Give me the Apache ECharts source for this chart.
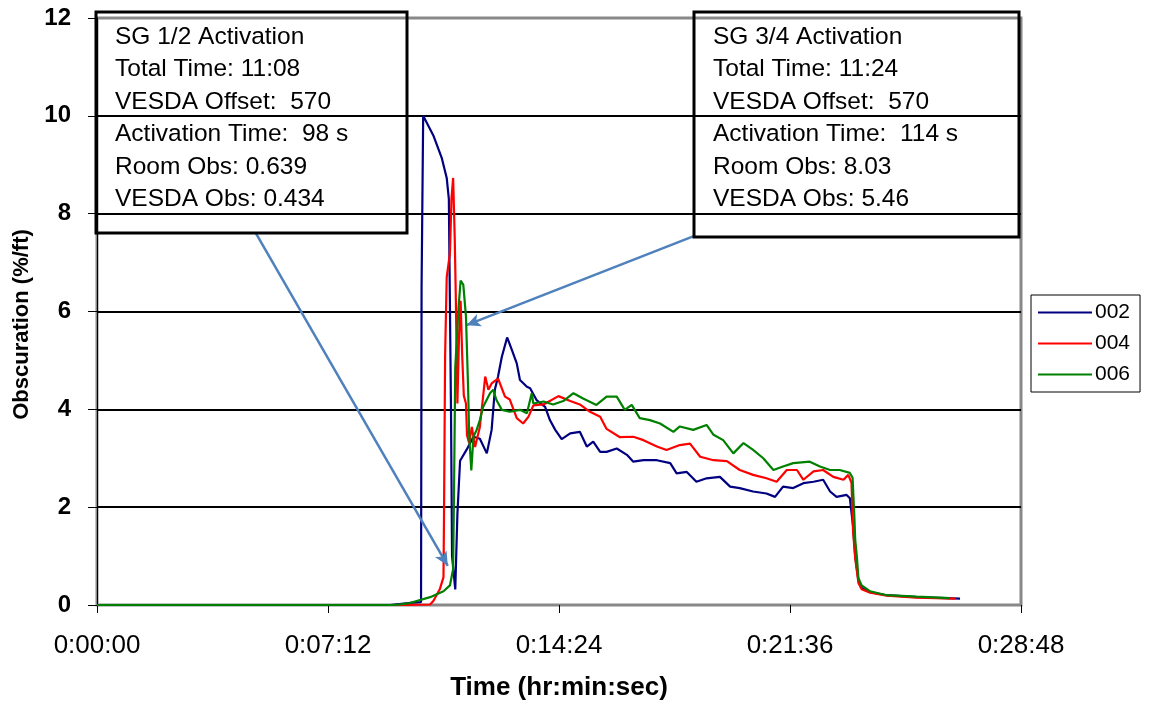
<!DOCTYPE html>
<html>
<head>
<meta charset="utf-8">
<script src="https://cdn.jsdelivr.net/npm/echarts@6/dist/echarts.min.js"></script>
<style>
    html, body { margin: 0; padding: 0; background: #fff; }
    #chart { width: 1149px; height: 702px; }
</style>
</head>
<body>
<div id="chart"></div>
<script>
    // time in seconds, obscuration in %/ft
    var times002 = [0, 548, 591, 606, 607, 610, 629, 645, 654, 658, 662, 664, 670, 674, 679, 691, 704, 716, 729, 738, 744, 750, 757, 767, 776, 785, 791, 804, 810, 822, 838, 847, 857, 869, 885, 903, 916, 928, 941, 953, 972, 991, 1003, 1022, 1047, 1072, 1084, 1103, 1121, 1140, 1165, 1184, 1202, 1227, 1252, 1268, 1283, 1302, 1321, 1340, 1358, 1371, 1383, 1402, 1408, 1411, 1414, 1418, 1424, 1430, 1446, 1477, 1533, 1614];
    var obs002 = [0, 0, 0.05, 0.06, 6.5, 10, 9.6, 9.13, 8.73, 8.3, 4.0, 1.0, 0.32, 1.86, 2.95, 3.17, 3.44, 3.4, 3.1, 3.58, 4.4, 4.67, 5.07, 5.47, 5.21, 4.94, 4.6, 4.46, 4.43, 4.19, 4.05, 3.78, 3.58, 3.39, 3.51, 3.54, 3.24, 3.34, 3.13, 3.13, 3.2, 3.07, 2.93, 2.96, 2.96, 2.9, 2.69, 2.72, 2.52, 2.59, 2.62, 2.42, 2.39, 2.32, 2.28, 2.21, 2.42, 2.39, 2.49, 2.52, 2.56, 2.32, 2.21, 2.25, 2.18, 2.2, 1.6, 1.0, 0.5, 0.35, 0.26, 0.2, 0.16, 0.13];

    var times004 = [0, 567, 623, 629, 641, 648, 649, 651, 654, 660, 663, 666, 669, 671, 674, 677, 680, 683, 686, 690, 692, 696, 701, 707, 716, 726, 732, 738, 750, 763, 772, 785, 797, 807, 816, 835, 863, 885, 903, 922, 941, 953, 978, 1003, 1022, 1047, 1065, 1090, 1109, 1128, 1153, 1178, 1202, 1227, 1252, 1271, 1290, 1309, 1321, 1340, 1358, 1377, 1396, 1405, 1411, 1414, 1418, 1424, 1430, 1446, 1477, 1533, 1605];
    var obs004 = [0, 0, 0.01, 0.08, 0.32, 0.57, 1.9, 5.09, 6.7, 7.19, 8.32, 8.73, 7.5, 6.3, 4.12, 5.5, 6.22, 5.09, 4.28, 4.12, 3.47, 3.31, 3.64, 3.23, 3.64, 4.67, 4.4, 4.53, 4.63, 4.26, 4.2, 3.82, 3.71, 3.85, 4.08, 4.1, 4.27, 4.17, 4.1, 3.95, 3.85, 3.6, 3.43, 3.44, 3.37, 3.24, 3.17, 3.27, 3.3, 3.03, 2.96, 2.94, 2.76, 2.66, 2.59, 2.52, 2.76, 2.76, 2.56, 2.73, 2.76, 2.62, 2.56, 2.66, 2.5, 1.5, 0.95, 0.45, 0.32, 0.25, 0.19, 0.15, 0.13];

    var times006 = [0, 557, 585, 623, 648, 660, 666, 668, 670, 676, 680, 685, 690, 694, 696, 700, 704, 710, 716, 722, 735, 741, 747, 757, 772, 791, 804, 813, 816, 835, 853, 872, 891, 909, 934, 953, 972, 987, 1000, 1015, 1034, 1053, 1078, 1090, 1115, 1140, 1153, 1171, 1190, 1209, 1227, 1246, 1265, 1283, 1302, 1333, 1352, 1371, 1389, 1408, 1413, 1416, 1418, 1421, 1424, 1430, 1446, 1477, 1533, 1595];
    var obs006 = [0, 0, 0.04, 0.16, 0.28, 0.4, 0.73, 2.67, 4.85, 6.06, 6.63, 6.55, 5.9, 4.44, 3.47, 2.75, 3.44, 3.58, 3.78, 4.05, 4.33, 4.4, 4.19, 3.99, 3.95, 3.99, 3.92, 4.33, 4.12, 4.16, 4.1, 4.17, 4.33, 4.22, 4.09, 4.26, 4.26, 3.99, 4.09, 3.82, 3.78, 3.71, 3.54, 3.65, 3.58, 3.68, 3.48, 3.37, 3.1, 3.31, 3.17, 3.0, 2.76, 2.83, 2.9, 2.93, 2.83, 2.76, 2.76, 2.7, 2.6, 1.9, 1.33, 0.99, 0.55, 0.4, 0.28, 0.2, 0.17, 0.14];

    var seriesNames = ['002', '004', '006'];
    var seriesColors = ['#000080', '#ff0000', '#008000'];

    var box1Lines = ['SG 1/2 Activation', 'Total Time: 11:08', 'VESDA Offset:  570', 'Activation Time:  98 s', 'Room Obs: 0.639', 'VESDA Obs: 0.434'];
    var box2Lines = ['SG 3/4 Activation', 'Total Time: 11:24', 'VESDA Offset:  570', 'Activation Time:  114 s', 'Room Obs: 8.03', 'VESDA Obs: 5.46'];

    // arrows from the boxes to the curves [time, obs]
    var arrow1 = [[297, 7.6], [656, 0.8]];
    var arrow2 = [[1116, 7.54], [691, 5.72]];

    function zip(ts, vs) {
        return ts.map(function (t, i) { return [t, vs[i]]; });
    }
    function pad(n) { return n < 10 ? '0' + n : '' + n; }
    function hms(s) {
        var h = Math.floor(s / 3600), m = Math.floor((s % 3600) / 60), sec = Math.round(s % 60);
        return h + ':' + pad(m) + ':' + pad(sec);
    }

    var allData = [zip(times002, obs002), zip(times004, obs004), zip(times006, obs006)];
    var font = 'Liberation Sans';

    var myChart = echarts.init(document.getElementById('chart'));

    var series = allData.map(function (d, i) {
        return {
            name: seriesNames[i],
            type: 'line',
            data: d,
            symbol: 'none',
            lineStyle: { color: seriesColors[i], width: 2.2 },
            itemStyle: { color: seriesColors[i] },
            z: 3 + i
        };
    });
    series[0].markLine = {
        silent: true,
        symbol: ['none', 'arrow'],
        symbolSize: [10, 14],
        lineStyle: { color: '#4f81bd', width: 2.5, type: 'solid' },
        label: { show: false },
        data: [
            [{ coord: arrow1[0] }, { coord: arrow1[1] }],
            [{ coord: arrow2[0] }, { coord: arrow2[1] }]
        ]
    };

    // annotation box with its text lines
    function boxGraphic(x, y, w, h, lines, textX) {
        var els = [{
            type: 'rect',
            shape: { x: x, y: y, width: w, height: h },
            style: { fill: 'none', stroke: '#000', lineWidth: 3 },
            z: 10
        }];
        lines.forEach(function (t, i) {
            els.push({
                type: 'text',
                x: textX,
                y: 37 + i * 32.5,
                style: { text: t, font: '24.5px "Liberation Sans"', fill: '#000', textVerticalAlign: 'middle' },
                z: 11
            });
        });
        return els;
    }

    myChart.setOption({
        animation: false,
        backgroundColor: '#fff',
        grid: {
            left: 97, right: 128, top: 18, bottom: 97,
            outerBoundsMode: 'none',
            show: true, borderColor: '#888', borderWidth: 3, backgroundColor: 'transparent'
        },
        legend: {
            orient: 'vertical',
            left: 1031, top: 295,
            data: seriesNames,
            icon: 'rect',
            itemWidth: 54, itemHeight: 2,
            itemGap: 10,
            padding: [7, 10, 7, 7],
            borderColor: '#000', borderWidth: 1,
            textStyle: { fontFamily: font, fontSize: 21, color: '#000', padding: [0, 0, 0, -2] }
        },
        xAxis: {
            type: 'value',
            min: 0, max: 1728, interval: 432,
            name: 'Time (hr:min:sec)',
            nameLocation: 'middle',
            nameGap: 70,
            nameTextStyle: { fontFamily: font, fontSize: 26, fontWeight: 'bold', color: '#000' },
            axisLine: { show: true, lineStyle: { color: '#888', width: 2 } },
            axisTick: { show: true, length: 8, lineStyle: { color: '#000', width: 1 } },
            axisLabel: { fontFamily: font, fontSize: 26, color: '#000', margin: 28, formatter: hms },
            splitLine: { show: false }
        },
        yAxis: {
            type: 'value',
            min: 0, max: 12, interval: 2,
            name: 'Obscuration (%/ft)',
            nameLocation: 'middle',
            nameRotate: 90,
            nameGap: 61,
            nameTextStyle: { fontFamily: font, fontSize: 22, fontWeight: 'bold', color: '#000', padding: [0, 26, 0, 0] },
            axisLine: { show: true, lineStyle: { color: '#000', width: 1 } },
            axisTick: { show: true, length: 9, lineStyle: { color: '#000', width: 1 } },
            axisLabel: { fontFamily: font, fontSize: 24, fontWeight: 'bold', color: '#000', margin: 26 },
            splitLine: { show: true, lineStyle: { color: ['#888', '#000', '#000', '#000', '#000', '#000', '#888'], width: 2 } }
        },
        graphic: boxGraphic(96, 12, 311, 221, box1Lines, 115).concat(boxGraphic(694, 12, 325, 225, box2Lines, 713)),
        series: series
    });
</script>
</body>
</html>
